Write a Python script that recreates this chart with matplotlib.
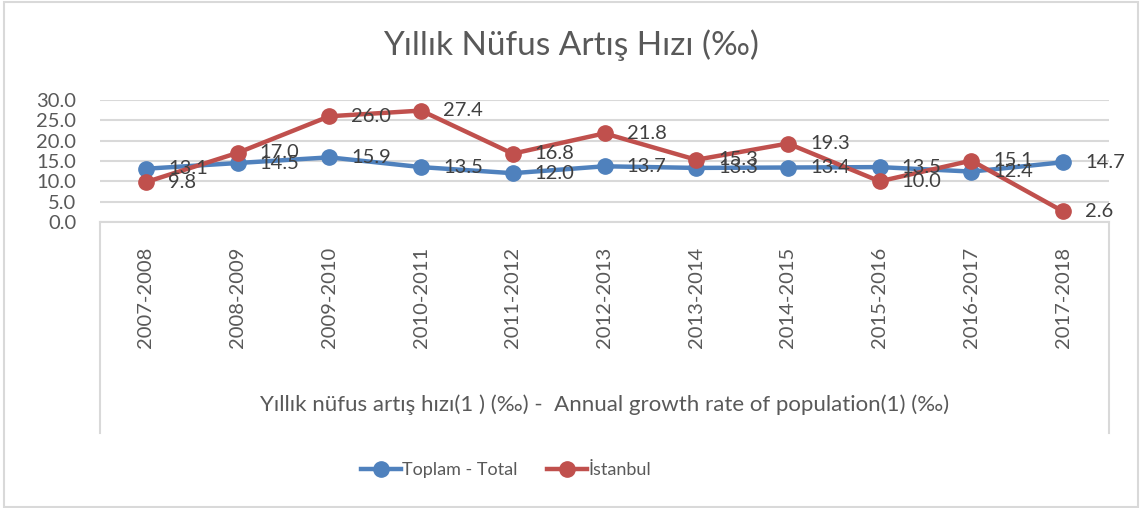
import matplotlib.pyplot as plt
from matplotlib.lines import Line2D

# --- veriler ---
donemler = ['2007-2008', '2008-2009', '2009-2010', '2010-2011', '2011-2012', '2012-2013',
            '2013-2014', '2014-2015', '2015-2016', '2016-2017', '2017-2018']
toplam = [13.1, 14.5, 15.9, 13.5, 12.0, 13.7, 13.3, 13.4, 13.5, 12.4, 14.7]
istanbul = [9.8, 17.0, 26.0, 27.4, 16.8, 21.8, 15.3, 19.3, 10.0, 15.1, 2.6]
y_ticks = [0, 5, 10, 15, 20, 25, 30]

plt.rcParams['font.family'] = ['Lato', 'DejaVu Sans']

mavi = '#4F81BD'
kirmizi = '#C0504D'
gri = '#595959'
izgara = '#D9D9D9'

W, H = 1147, 508
fig = plt.figure(figsize=(W / 100, H / 100), dpi=100)

# plot alani: x 100..1109 px, y 0 -> 222 px, 30 -> 100 px
ax = fig.add_axes([100 / W, 1 - 222 / H, 1009 / W, 122 / H])

x = list(range(len(donemler)))
ax.plot(x, toplam, color=mavi, lw=3.2, marker='o', ms=11, clip_on=False, zorder=3)
ax.plot(x, istanbul, color=kirmizi, lw=3.2, marker='o', ms=11, clip_on=False, zorder=4)

for xi, v in zip(x, toplam):
    ax.annotate(f'{v:.1f}', (xi, v), xytext=(22, 0), textcoords='offset pixels',
                va='center', ha='left', fontsize=14.5, color='#404040', zorder=5)
for xi, v in zip(x, istanbul):
    ax.annotate(f'{v:.1f}', (xi, v), xytext=(22, 0), textcoords='offset pixels',
                va='center', ha='left', fontsize=14.5, color='#404040', zorder=5)

ax.set_xlim(-0.5, len(donemler) - 0.5)
ax.set_ylim(0, 30)
ax.set_yticks(y_ticks)
ax.set_yticklabels([f'{t:.1f}' for t in y_ticks], fontsize=14.5, color=gri)
ax.tick_params(axis='y', length=0, pad=17)
ax.set_xticks([])
ax.grid(axis='y', color=izgara, lw=1.5)
ax.set_axisbelow(True)
for s in ax.spines.values():
    s.set_visible(False)

# kategori kutusu
tr = ax.transAxes
ax.plot([0, 1], [0, 0], transform=tr, color=izgara, lw=1.5, clip_on=False)
ax.plot([0, 0], [0, -211 / 122], transform=tr, color=izgara, lw=1.5, clip_on=False)
ax.plot([1, 1], [0, -211 / 122], transform=tr, color=izgara, lw=1.5, clip_on=False)

xt = ax.get_xaxis_transform()
for xi, d in zip(x, donemler):
    ax.text(xi, -25 / 122, d, transform=xt, rotation=90, ha='center', va='top',
            fontsize=14.5, color=gri)

ax.text(0.5, -183 / 122,
        'Yıllık nüfus artış hızı(1 ) (‰) -  Annual growth rate of population(1) (‰)',
        transform=tr, ha='center', va='center', fontsize=16, color=gri)

fig.text(0.498, 1 - 45 / H, 'Yıllık Nüfus Artış Hızı (‰)', ha='center', va='center',
         fontsize=24, color=gri)

handles = [Line2D([], [], color=mavi, lw=3.2, marker='o', ms=11),
           Line2D([], [], color=kirmizi, lw=3.2, marker='o', ms=11)]
fig.legend(handles, ['Toplam - Total', 'İstanbul'], loc='center',
           bbox_to_anchor=(506 / W, 1 - 470 / H), ncol=2, frameon=False,
           fontsize=13, labelcolor=gri, handlelength=2.2, columnspacing=1.6,
           handletextpad=0.1)

# dis cerceve
fig.add_artist(plt.Rectangle((4 / W, 1 / H), 1134 / W, 505 / H, transform=fig.transFigure,
                             fill=False, edgecolor=izgara, lw=1.5))

plt.savefig('out.png', dpi=100)
